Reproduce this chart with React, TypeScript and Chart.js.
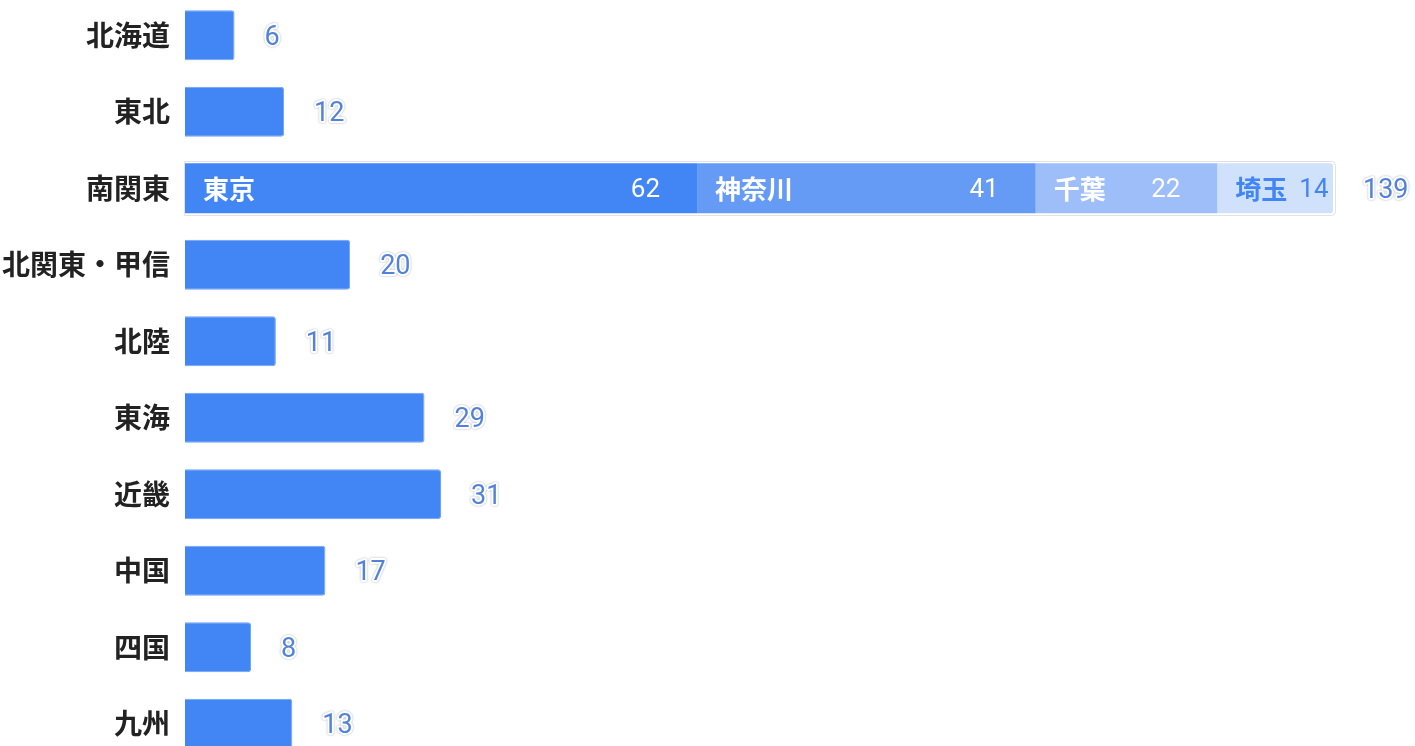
import React, { useEffect, useRef } from "react";
import { Chart, registerables } from "chart.js";

Chart.register(...registerables);

const categories = ["北海道", "東北", "南関東", "北関東・甲信", "北陸", "東海", "近畿", "中国", "四国", "九州"];
const regionValues = [6, 12, null, 20, 11, 29, 31, 17, 8, 13];
const subNames = ["東京", "神奈川", "千葉", "埼玉"];
const subValues = [62, 41, 22, 14];
const subIndex = 2;
const subColors = ["#4285F4", "#659BF5", "#9EBEF9", "#D0E1FC"];
const subTextColors = ["#FFFFFF", "#FFFFFF", "#FFFFFF", "#4285F4"];
const axisMax = 139;

const FONT = "'Noto Sans CJK JP', 'Noto Sans', sans-serif";
const NUMFONT = "Roboto, 'Noto Sans', sans-serif";

const labelPlugin = {
  id: "labelPlugin",
  beforeDatasetsDraw(chart: any) {
    const ctx = chart.ctx;
    const first = chart.getDatasetMeta(1).data[subIndex];
    const last = chart.getDatasetMeta(subNames.length).data[subIndex];
    if (first && last) {
      const x0 = first.base - 1.5;
      const x1 = last.x + 1.5;
      const yc = first.y;
      ctx.save();
      ctx.strokeStyle = "#E2E2E2";
      ctx.lineWidth = 1;
      ctx.beginPath();
      (ctx as any).roundRect(Math.round(x0) + 0.5, Math.round(yc - 27) + 0.5, Math.round(x1 - x0), 54, [0, 4, 4, 0]);
      ctx.stroke();
      ctx.restore();
    }
  },
  afterDatasetsDraw(chart: any) {
    const ctx = chart.ctx;
    ctx.save();
    ctx.textBaseline = "middle";
    for (let i = 0; i < subNames.length; i++) {
      const bar = chart.getDatasetMeta(i + 1).data[subIndex];
      if (!bar) continue;
      const start = bar.base;
      const end = bar.x;
      const y = bar.y;
      ctx.fillStyle = subTextColors[i];
      ctx.font = `bold 26px ${FONT}`;
      ctx.textAlign = "left";
      const nx = start + 18;
      ctx.fillText(subNames[i], nx, y + 1);
      const nw = ctx.measureText(subNames[i]).width;
      ctx.font = `26px ${NUMFONT}`;
      const vt = String(subValues[i]);
      const vw = ctx.measureText(vt).width;
      let vx = end - 37 - vw;
      if (vx < nx + nw + 12) vx = nx + nw + 12;
      ctx.fillText(vt, vx, y + 2);
    }
    ctx.font = `27px ${NUMFONT}`;
    ctx.textAlign = "left";
    for (let c = 0; c < categories.length; c++) {
      let total = 0;
      let endX = 0;
      let y = 0;
      chart.data.datasets.forEach((ds: any, di: number) => {
        const v = ds.data[c];
        if (v != null) {
          total += v;
          const el = chart.getDatasetMeta(di).data[c];
          if (el.x > endX) endX = el.x;
          y = el.y;
        }
      });
      const t = String(total);
      const x = endX + 30;
      const ty = y + 2.5;
      ctx.save();
      ctx.lineJoin = "round";
      ctx.shadowColor = "rgba(60,80,120,0.5)";
      ctx.shadowBlur = 2;
      ctx.strokeStyle = "#FFFFFF";
      ctx.lineWidth = 4;
      ctx.strokeText(t, x, ty);
      ctx.restore();
      ctx.fillStyle = "#5283D9";
      ctx.fillText(t, x, ty);
    }
    ctx.restore();
  },
};

export default function App() {
  const ref = useRef<HTMLCanvasElement | null>(null);
  useEffect(() => {
    if (!ref.current) return;
    const datasets: any[] = [
      {
        label: "地域",
        data: regionValues,
        backgroundColor: "#4285F4",
        borderColor: "#6FA2F6",
        borderWidth: 1,
        borderRadius: 3,
        borderSkipped: "start",
      },
    ];
    subNames.forEach((n, i) => {
      datasets.push({
        label: n,
        data: categories.map((_, c) => (c === subIndex ? subValues[i] : null)),
        backgroundColor: subColors[i],
        borderWidth: 0,
        borderRadius: i === subNames.length - 1 ? 3 : 0,
        borderSkipped: "start",
      });
    });
    const chart = new Chart(ref.current, {
      type: "bar",
      data: { labels: categories, datasets },
      options: {
        indexAxis: "y",
        animation: false,
        responsive: false,
        maintainAspectRatio: false,
        layout: { padding: { left: 0, right: 82, top: 0, bottom: 0 } },
        datasets: { bar: { categoryPercentage: 1, barPercentage: 0.654 } },
        plugins: { legend: { display: false }, tooltip: { enabled: false } },
        scales: {
          x: { stacked: true, min: 0, max: axisMax, display: false },
          y: {
            stacked: true,
            grid: { display: false, drawTicks: false },
            border: { display: false },
            ticks: {
              padding: 15,
              color: "#222222",
              font: { family: FONT, size: 28, weight: "bold" as any },
            },
            afterFit: (scale: any) => {
              scale.width = 185;
              scale.paddingTop = 0;
              scale.paddingBottom = 0;
            },
          },
        },
      } as any,
      plugins: [labelPlugin],
    });
    return () => chart.destroy();
  }, []);
  return (
    <div style={{ position: "fixed", left: 0, top: -3, width: 1415, height: 765 }}>
      <canvas ref={ref} width={1415} height={765} style={{ display: "block" }} />
    </div>
  );
}
